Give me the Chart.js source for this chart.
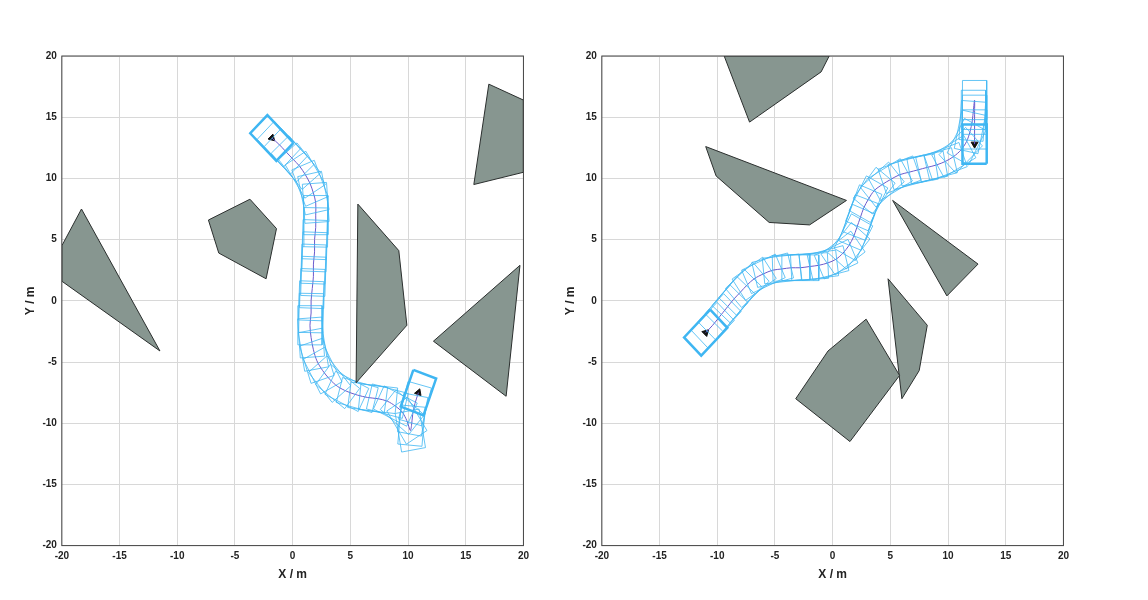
<!DOCTYPE html>
<html><head><meta charset="utf-8">
<script src="https://cdn.jsdelivr.net/npm/chart.js@4.4.0/dist/chart.umd.min.js"></script>
<style>body{margin:0;background:#fff;width:1148px;height:600px;position:relative;overflow:hidden}
.c{position:absolute;top:0;height:600px}</style></head><body>
<div class="c" style="left:14px;width:520px"><canvas id="a"></canvas></div>
<div class="c" style="left:554px;width:520px"><canvas id="b"></canvas></div>
<script>
const ticks = [-20,-15,-10,-5,0,5,10,15,20];
const obstaclesLeft = [
 [[-20,4.5],[-18.3,7.5],[-11.5,-4.1],[-20,1.6]],
 [[-7.3,6.6],[-3.7,8.3],[-1.4,5.9],[-2.3,1.8],[-6.4,3.9]],
 [[5.65,7.9],[9.2,4.1],[9.9,-2],[5.5,-6.7]],
 [[19.7,2.9],[18.5,-7.8],[12.2,-3.3]],
 [[17,17.7],[20,16.4],[20,10.5],[15.7,9.5]]
];
const obstaclesRight = [
 [[-9.4,20],[-0.3,20],[-1,18.7],[-7.2,14.6]],
 [[-11,12.6],[1.2,8.2],[-2,6.2],[-5.5,6.4],[-10.1,10.2]],
 [[5.2,8.2],[12.6,3],[9.9,0.4]],
 [[2.9,-1.5],[5.8,-6.1],[1.5,-11.5],[-3.2,-8],[-0.4,-4.1]],
 [[4.8,1.8],[8.2,-2],[7.5,-5.7],[6,-8]]
];
// poses: x, y, heading (deg)
const posesLeft = [
 [-1.8,13.3,-45],[-1.2,12.8,-45],[-0.6,12.2,-45],[0,11.6,-47],[0.6,11,-50],[1.1,10.3,-58],[1.5,9.6,-68],[1.8,8.8,-78],[2,8,-86],
 [2,7,-90],[2,6,-91],[1.9,5,-92],[1.9,4,-92],[1.8,3,-92],[1.8,2,-92],[1.7,1,-92],[1.6,0,-92],[1.6,-1,-91],[1.5,-2,-90],
 [1.6,-3,-86],[1.8,-4,-80],[2.1,-4.9,-72],[2.6,-5.7,-62],[3.2,-6.4,-50],[3.9,-7,-38],[4.7,-7.4,-26],[5.6,-7.7,-15],
 [6.5,-7.9,-8],[7.4,-8,-6],[8.2,-8.2,-14],[8.9,-8.6,-26],[9.5,-9.1,-40],[9.9,-9.8,-58],[10.2,-10.6,-80],
 [10.3,-10.2,85],[10.4,-9.3,80],[10.6,-8.4,75],[10.9,-7.5,70]
];
const posesRight = [
 [-11,-2.6,45],[-10.4,-2,45],[-9.8,-1.3,46],[-9.2,-0.6,47],[-8.6,0.1,48],[-8,0.7,47],[-7.4,1.3,42],[-6.8,1.8,34],[-6,2.2,24],
 [-5.2,2.5,14],[-4.4,2.6,6],[-3.6,2.7,2],[-2.8,2.7,0],[-2,2.8,3],[-1.2,2.9,7],[-0.4,3.1,14],[0.3,3.4,24],[0.9,3.9,36],
 [1.4,4.5,50],[1.8,5.2,62],[2.1,6,68],[2.4,6.8,70],[2.7,7.6,68],[3.1,8.3,62],[3.6,9,52],[4.3,9.5,40],[5,9.9,30],
 [5.8,10.3,20],[6.6,10.5,14],[7.4,10.7,10],[8.2,10.9,11],[9,11.1,14],[9.8,11.4,20],[10.5,11.8,30],[11.1,12.3,44],
 [11.6,13,62],[11.9,13.8,78],[12.1,14.7,86],[12.2,15.6,90],[12.3,16.4,90],
 [12.3,15.2,-90],[12.3,14,-90],[12.3,12.8,-90]
];
const vehLen = 3.2, vehWid = 2.1;

function rect(p){
  const [x,y,h]=p, t=h*Math.PI/180, c=Math.cos(t), s=Math.sin(t);
  const pts=[[vehLen/2,vehWid/2],[vehLen/2,-vehWid/2],[-vehLen/2,-vehWid/2],[-vehLen/2,vehWid/2],[vehLen/2,vehWid/2]];
  return pts.map(([u,v])=>({x:x+u*c-v*s,y:y+u*s+v*c}));
}
function build(obs, poses){
  const ds=[];
  obs.forEach(o=>ds.push({data:[...o,o[0]].map(([x,y])=>({x,y})),showLine:true,fill:'shape',
    backgroundColor:'#879690',borderColor:'#2b2f2e',borderWidth:1,pointRadius:0,tension:0}));
  poses.forEach((p,i)=>{const end=(i==0||i==poses.length-1);
    ds.push({data:rect(p),showLine:true,fill:false,borderColor:'#3fb6f2',borderWidth:end?2.5:0.8,pointRadius:0,tension:0});});
  ds.push({data:poses.map(p=>({x:p[0],y:p[1]})),showLine:true,borderColor:'#6a5acd',borderWidth:1,pointRadius:0,tension:0.3});
  [poses[0],poses[poses.length-1]].forEach(p=>ds.push({data:[{x:p[0],y:p[1]}],pointStyle:'triangle',pointRadius:4,
    rotation:90-p[2],backgroundColor:'#111',borderColor:'#111',showLine:false}));
  return ds;
}
const boxPlugin={id:'box',afterDraw(c){const a=c.chartArea,x=c.ctx;x.save();x.strokeStyle='#444';x.lineWidth=1;
  x.strokeRect(a.left,a.top,a.right-a.left,a.bottom-a.top);x.restore();}};
function axis(title,pad){return {type:'linear',min:-20,max:20,
  afterBuildTicks:s=>{s.ticks=ticks.map(v=>({value:v}));},
  grid:{color:'#d8d8d8',borderDash:[2,2],drawTicks:false},border:{display:false},
  ticks:{color:'#222',font:{family:'Liberation Sans',size:10,weight:'bold'},padding:5},
  title:{display:true,text:title,color:'#222',font:{family:'Liberation Sans',size:12,weight:'bold'},padding:pad}};}
function make(id,obs,poses){
  new Chart(document.getElementById(id),{type:'scatter',data:{datasets:build(obs,poses)},plugins:[boxPlugin],
   options:{responsive:true,maintainAspectRatio:false,animation:false,layout:{padding:{top:56,bottom:18,right:8,left:9}},
    plugins:{legend:{display:false},tooltip:{enabled:false}},scales:{x:axis('X / m',{top:0,bottom:0}),y:axis('Y / m',{top:0,bottom:0})}}});
}
make('a',obstaclesLeft,posesLeft);
make('b',obstaclesRight,posesRight);
</script></body></html>
